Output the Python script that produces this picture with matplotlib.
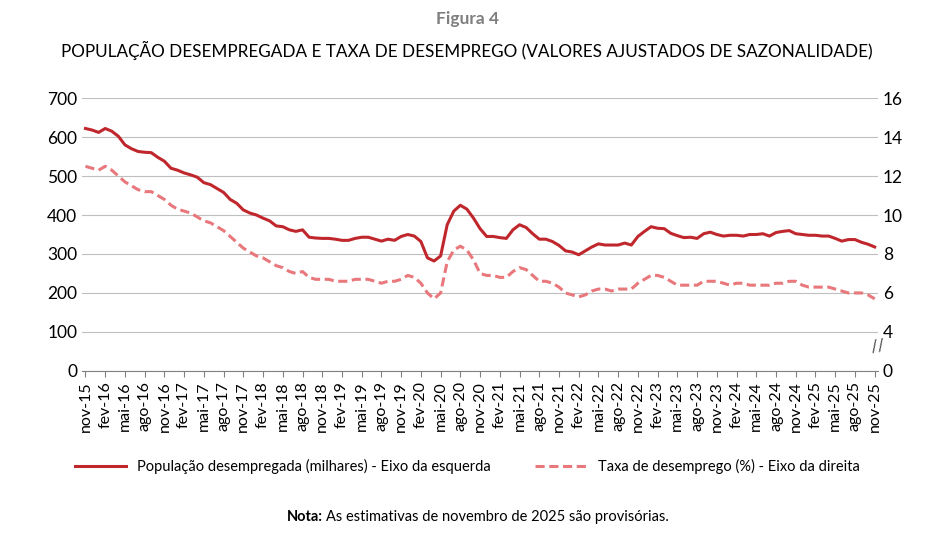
import matplotlib.pyplot as plt
import numpy as np

plt.rcParams['font.family'] = ['Lato', 'DejaVu Sans']

# monthly values nov-15 .. nov-25
pop = ([622, 618] +
       [612, 622, 615, 602, 580, 570, 563, 561, 560, 548, 538, 520] +
       [515, 508, 503, 497, 483, 478, 468, 458, 440, 430, 413, 405] +
       [400, 392, 385, 372, 370, 362, 358, 362, 343, 341, 340, 340] +
       [338, 335, 335, 340, 343, 343, 338, 333, 338, 335, 345, 350] +
       [346, 332, 290, 282, 295, 375, 410, 425, 415, 392, 365, 345] +
       [345, 342, 340, 362, 375, 368, 352, 338, 338, 332, 322, 308] +
       [305, 298, 308, 318, 326, 323, 323, 323, 328, 323, 345, 358] +
       [370, 366, 365, 353, 347, 342, 343, 340, 352, 356, 350, 346] +
       [348, 348, 346, 350, 350, 352, 346, 355, 358, 360, 352, 350] +
       [348, 348, 346, 346, 340, 333, 337, 337, 330, 325, 318])
taxa = ([12.5, 12.4] +
        [12.3, 12.5, 12.3, 12.0, 11.7, 11.5, 11.3, 11.2, 11.2, 11.0, 10.8, 10.5] +
        [10.3, 10.2, 10.1, 9.9, 9.7, 9.6, 9.4, 9.2, 8.9, 8.6, 8.3, 8.1] +
        [7.9, 7.8, 7.6, 7.4, 7.3, 7.1, 7.0, 7.1, 6.8, 6.7, 6.7, 6.7] +
        [6.6, 6.6, 6.6, 6.7, 6.7, 6.7, 6.6, 6.5, 6.6, 6.6, 6.7, 6.9] +
        [6.8, 6.5, 6.0, 5.7, 6.0, 7.6, 8.2, 8.4, 8.2, 7.7, 7.0, 6.9] +
        [6.9, 6.8, 6.8, 7.1, 7.3, 7.2, 6.9, 6.6, 6.6, 6.5, 6.3, 6.0] +
        [5.9, 5.8, 5.9, 6.1, 6.2, 6.2, 6.1, 6.2, 6.2, 6.2, 6.5, 6.7] +
        [6.9, 6.9, 6.8, 6.6, 6.4, 6.4, 6.4, 6.4, 6.6, 6.6, 6.6, 6.5] +
        [6.4, 6.5, 6.5, 6.4, 6.4, 6.4, 6.4, 6.5, 6.5, 6.6, 6.6, 6.4] +
        [6.3, 6.3, 6.3, 6.3, 6.2, 6.1, 6.0, 6.0, 6.0, 5.9, 5.7])

labels = []
for i in range(0, 121, 3):
    m = (10 + i) % 12
    y = 15 + (10 + i) // 12
    labels.append({10: 'nov', 1: 'fev', 4: 'mai', 7: 'ago'}[m] + '-%d' % y)

x = np.arange(len(pop))
red = '#C0272D'
pink = '#E8787C'

fig = plt.figure(figsize=(9.34, 5.36), dpi=100)
ax = fig.add_axes([0.088, 0.308, 0.852, 0.509])
ax.plot(x, pop, color=red, lw=2.2, label='População desempregada (milhares) - Eixo da esquerda')
ax.set_ylim(0, 700)
ax.set_xlim(-0.5, 120.5)
ax.set_yticks(range(0, 701, 100))
ax.yaxis.grid(True, color='#BFBFBF', lw=0.8)
ax.set_axisbelow(True)
ax.set_xticks(x[::3])
ax.set_xticklabels(labels, rotation=90, fontsize=11.5)
ax.tick_params(axis='y', labelsize=12.5, length=0)
ax.tick_params(axis='x', length=4, color='#808080')
for s in ['top', 'right', 'left']:
    ax.spines[s].set_visible(False)
ax.spines['bottom'].set_color('#808080')

ax2 = ax.twinx()
ax2.plot(x, taxa, color=pink, lw=2.2, ls=(0, (3, 1.5)), label='Taxa de desemprego (%) - Eixo da direita')
ax2.set_ylim(2, 16)
ax2.set_yticks(range(2, 17, 2))
ax2.set_yticklabels(['0'] + [str(v) for v in range(4, 17, 2)])
ax2.tick_params(axis='y', labelsize=12.5, length=0)
for s in ax2.spines.values():
    s.set_visible(False)
ax2.text(1.0, 0.09, '//', transform=ax2.transAxes, fontsize=12, color='#404040',
         ha='center', va='center', rotation=10)

h1, l1 = ax.get_legend_handles_labels()
h2, l2 = ax2.get_legend_handles_labels()
fig.legend(h1 + h2, l1 + l2, loc='center', bbox_to_anchor=(0.5, 0.13), ncol=2,
           frameon=False, fontsize=10.5, columnspacing=3, handlelength=3.5)

fig.text(0.5, 0.965, 'Figura 4', ha='center', va='center', fontsize=12.5,
         fontweight='bold', color='#7F7F7F')
fig.text(0.5, 0.905, 'POPULAÇÃO DESEMPREGADA E TAXA DE DESEMPREGO (VALORES AJUSTADOS DE SAZONALIDADE)',
         ha='center', va='center', fontsize=12.3)
fig.text(0.346, 0.035, 'Nota:', ha='right', va='center', fontsize=10.5, fontweight='bold')
fig.text(0.349, 0.035, 'As estimativas de novembro de 2025 são provisórias.',
         ha='left', va='center', fontsize=10.5)

fig.savefig('out.png', dpi=100)
